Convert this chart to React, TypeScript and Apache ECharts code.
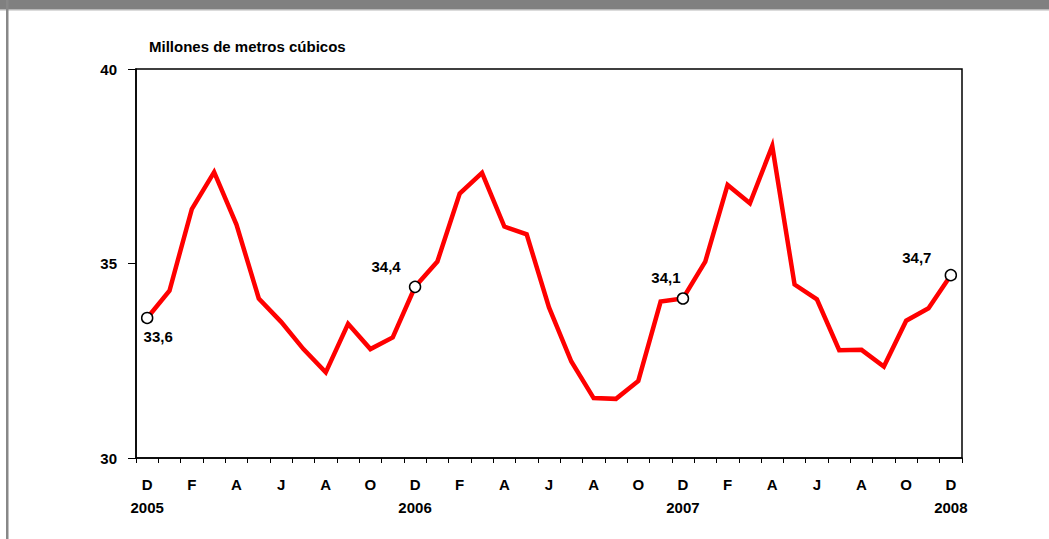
import React, { useEffect, useRef } from "react";
import * as echarts from "echarts";

const months = [
  "D", "E", "F", "M", "A", "M", "J", "J", "A", "S", "O", "N",
  "D", "E", "F", "M", "A", "M", "J", "J", "A", "S", "O", "N",
  "D", "E", "F", "M", "A", "M", "J", "J", "A", "S", "O", "N",
  "D",
];
const yearLabels: Record<number, string> = { 0: "2005", 12: "2006", 24: "2007", 36: "2008" };
const consumption = [
  33.6, 34.3, 36.4, 37.35, 36.0, 34.1, 33.5, 32.8, 32.2, 33.45, 32.8, 33.1,
  34.4, 35.05, 36.8, 37.33, 35.95, 35.75, 33.87, 32.48, 31.54, 31.52, 31.98, 34.02,
  34.1, 35.05, 37.02, 36.55, 38.02, 34.46, 34.08, 32.77, 32.78, 32.35, 33.53, 33.85,
  34.7,
];
const highlighted = [0, 12, 24, 36];
const labelOffsets: [number, number][] = [[11, 19], [-29, -20], [-17, -21], [-34, -18]];
const yTicks = [30, 35, 40];
const title = "Millones de metros cúbicos";

const FONT = "'Liberation Sans', Arial, sans-serif";
const FS = 15;

export default function App() {
  const ref = useRef<HTMLDivElement>(null);
  useEffect(() => {
    if (!ref.current) return;
    const chart = echarts.init(ref.current, null, { renderer: "svg" });
    const labelBase = {
      show: true,
      position: "inside",
      color: "#000",
      fontWeight: "bold",
      fontSize: FS,
      fontFamily: FONT,
      align: "center",
      verticalAlign: "middle",
      textBorderWidth: 0,
    };
    const scatterData = highlighted.map((idx, k) => ({
      value: [idx, consumption[idx]],
      label: {
        ...labelBase,
        offset: labelOffsets[k],
        formatter: () => consumption[idx].toFixed(1).replace(".", ","),
      },
    }));
    chart.setOption({
      animation: false,
      backgroundColor: "#ffffff",
      textStyle: { fontFamily: FONT },
      graphic: [
        { type: "rect", shape: { x: 0, y: 0, width: 1049, height: 9 }, style: { fill: "#808080" }, silent: true },
        { type: "rect", shape: { x: 0, y: 9, width: 1049, height: 1.5 }, style: { fill: "#b8b8b8" }, silent: true },
        { type: "rect", shape: { x: 6, y: 0, width: 2.5, height: 539 }, style: { fill: "#888888" }, silent: true },
        {
          type: "text",
          x: 149,
          y: 46,
          style: {
            text: title,
            fontFamily: FONT,
            fontWeight: "bold",
            fontSize: FS,
            fill: "#000",
            verticalAlign: "middle",
          },
          silent: true,
        },
      ],
      grid: {
        left: 136,
        right: 87,
        top: 69,
        bottom: 81,
        show: true,
        borderColor: "#000",
        borderWidth: 1.5,
        backgroundColor: "transparent",
      },
      xAxis: {
        type: "category",
        data: months,
        boundaryGap: true,
        axisLine: { lineStyle: { color: "#000", width: 1.5 } },
        axisTick: { show: true, alignWithLabel: false, interval: 0, length: 5, lineStyle: { color: "#000", width: 1 } },
        axisLabel: {
          interval: 1,
          margin: 15,
          color: "#000",
          fontWeight: "bold",
          fontSize: FS,
          fontFamily: FONT,
          lineHeight: 23,
          verticalAlign: "top",
          formatter: (val: string, idx: number) =>
            yearLabels[idx] ? `${val}\n${yearLabels[idx]}` : val,
        },
        splitLine: { show: false },
      },
      yAxis: {
        type: "value",
        min: yTicks[0],
        max: yTicks[yTicks.length - 1],
        interval: 5,
        axisLine: { show: true, lineStyle: { color: "#000", width: 1.5 } },
        axisTick: { show: true, length: 8, lineStyle: { color: "#000", width: 1 } },
        axisLabel: {
          margin: 19,
          color: "#000",
          fontWeight: "bold",
          fontSize: FS,
          fontFamily: FONT,
        },
        splitLine: { show: false },
      },
      series: [
        {
          type: "line",
          data: consumption,
          symbol: "none",
          lineStyle: { color: "#ff0000", width: 4.5, join: "miter" },
          z: 2,
        },
        {
          type: "scatter",
          data: scatterData,
          symbol: "circle",
          symbolSize: 11,
          itemStyle: { color: "#ffffff", borderColor: "#000", borderWidth: 1.5, opacity: 1 },
          label: labelBase,
          emphasis: { disabled: true },
          z: 3,
        },
      ],
    });
    return () => chart.dispose();
  }, []);
  return (
    <div
      ref={ref}
      style={{ position: "fixed", left: 0, top: 0, width: 1049, height: 539, background: "#fff" }}
    />
  );
}
